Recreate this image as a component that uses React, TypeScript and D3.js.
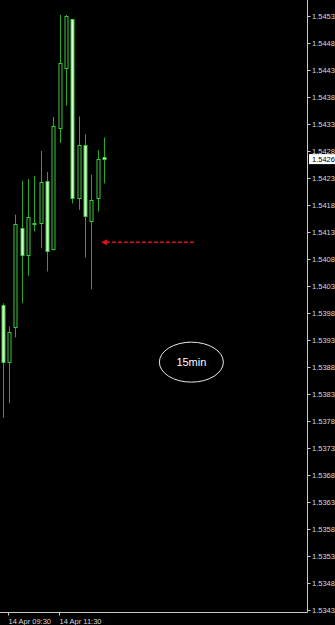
import React from "react";
import * as d3 from "d3";

const times = ["09:15","09:30","09:45","10:00","10:15","10:30","10:45","11:00","11:15","11:30","11:45","12:00","12:15","12:30","12:45","13:00","13:15"];
const opens  = [1.53994,1.53889,1.53954,1.54138,1.54087,1.54146,1.54147,1.54224,1.54098,1.54323,1.54434,1.54525,1.54193,1.54291,1.54151,1.54193,1.54268];
const highs  = [1.53998,1.53955,1.54162,1.54225,1.54228,1.54234,1.54280,1.54241,1.54343,1.54532,1.54532,1.54525,1.54344,1.54311,1.54236,1.54282,1.54305];
const lows   = [1.53786,1.53813,1.53935,1.53998,1.54049,1.54131,1.54100,1.54057,1.54096,1.54295,1.54364,1.54183,1.54171,1.54083,1.54024,1.54168,1.54220];
const closes = [1.53889,1.53945,1.54145,1.54087,1.54157,1.54146,1.54223,1.54094,1.54327,1.54443,1.54530,1.54193,1.54291,1.54160,1.54189,1.54265,1.54265];

const yTickLabels = ["1.5453","1.5448","1.5443","1.5438","1.5433","1.5428","1.5423","1.5418","1.5413","1.5408","1.5403","1.5398","1.5393","1.5388","1.5383","1.5378","1.5373","1.5368","1.5363","1.5358","1.5353","1.5348","1.5343"];
const xTickIndex = [1, 9];
const xTickLabels = ["14 Apr 09:30", "14 Apr 11:30"];
const currentPriceLabel = "1.5426";
const timeframeLabel = "15min";
// annotation anchors in data terms (bar index, price)
const arrowPrice = 1.54111;
const arrowFromIndex = 30.2;
const arrowToIndex = 15.55;
const noteIndex = 29.8;
const notePrice = 1.53889;

const W = 335, H = 625;
const AXIS_X = 307.5, AXIS_Y = 612.5;

export default function App() {
  const x = d3.scaleLinear().domain([0, times.length - 1]).range([2.7, 104]);
  const y = d3.scaleLinear().domain([1.5343, 1.5453]).range([610, 16]);
  const px = (i: number) => Math.round(x(i)) + 0.5;
  const wick = "#22ab22";
  const edge = "#3acb3a";
  const bearFill = "#dcfcd2";
  const lab = "#d8d8d8";
  const font = "'Liberation Sans', Arial, sans-serif";

  const candles = times.map((t, i) => {
    const o = opens[i], c = closes[i], h = highs[i], l = lows[i];
    const cx = px(i);
    const top = Math.round(y(Math.max(o, c))) + 0.5;
    let bot = Math.round(y(Math.min(o, c))) + 0.5;
    if (bot - top < 1) bot = top + 1;
    const bear = c < o;
    return (
      <g key={t}>
        <line x1={cx} x2={cx} y1={y(h)} y2={y(l)} stroke={wick} strokeWidth={1} />
        <rect x={cx - 1.5} y={top} width={3} height={bot - top}
          fill={bear ? bearFill : "#000"} stroke={edge} strokeWidth={1} />
      </g>
    );
  });

  const curY = y(closes[closes.length - 1]);
  const ay = y(arrowPrice);
  const ax0 = x(arrowFromIndex), ax1 = x(arrowToIndex);

  return (
    <svg width={W} height={H} style={{ position: "fixed", left: 0, top: 0, background: "#000", display: "block" }}>
      <rect x={0} y={0} width={W} height={H} fill="#000" />
      {candles}
      {/* axes */}
      <line x1={AXIS_X} x2={AXIS_X} y1={0} y2={AXIS_Y} stroke="#c8c8c8" strokeWidth={1} />
      <line x1={0} x2={AXIS_X} y1={AXIS_Y} y2={AXIS_Y} stroke="#c8c8c8" strokeWidth={1} />
      {yTickLabels.map((t) => {
        const ty = Math.round(y(+t)) + 0.5;
        return (
          <g key={t}>
            <line x1={AXIS_X} x2={AXIS_X + 3} y1={ty} y2={ty} stroke="#c8c8c8" />
            <text x={312} y={ty} dy="0.35em" fill={lab} fontSize={7.5} fontFamily={font}>{t}</text>
          </g>
        );
      })}
      <rect x={309} y={curY - 5} width={27} height={10} fill="#fff" />
      <text x={312} y={curY} dy="0.35em" fill="#000" fontSize={7.5} fontFamily={font}>{currentPriceLabel}</text>
      {xTickIndex.map((ti, k) => {
        const tx = Math.round(x(ti) - 1) + 0.5;
        return (
          <g key={ti}>
            <line x1={tx} x2={tx} y1={AXIS_Y} y2={AXIS_Y + 3} stroke="#c8c8c8" />
            <text x={tx} y={621} dy="0.35em" fill={lab} fontSize={7.5} fontFamily={font}>{xTickLabels[k]}</text>
          </g>
        );
      })}
      {/* arrow annotation */}
      <line x1={ax0} x2={ax1 + 5} y1={ay} y2={ay} stroke="#e01414" strokeWidth={1.6} strokeDasharray="4,2" />
      <path d={`M${ax1},${ay} L${ax1 + 6},${ay - 3} L${ax1 + 6},${ay + 3} Z`} fill="#e01414" />
      {/* timeframe note */}
      <ellipse cx={x(noteIndex)} cy={y(notePrice)} rx={32} ry={20} fill="none" stroke="#e8e8e8" strokeWidth={1} />
      <text x={x(noteIndex)} y={y(notePrice)} dy="0.35em" textAnchor="middle" fill="#fff" fontSize={11} fontFamily={font}>{timeframeLabel}</text>
    </svg>
  );
}
